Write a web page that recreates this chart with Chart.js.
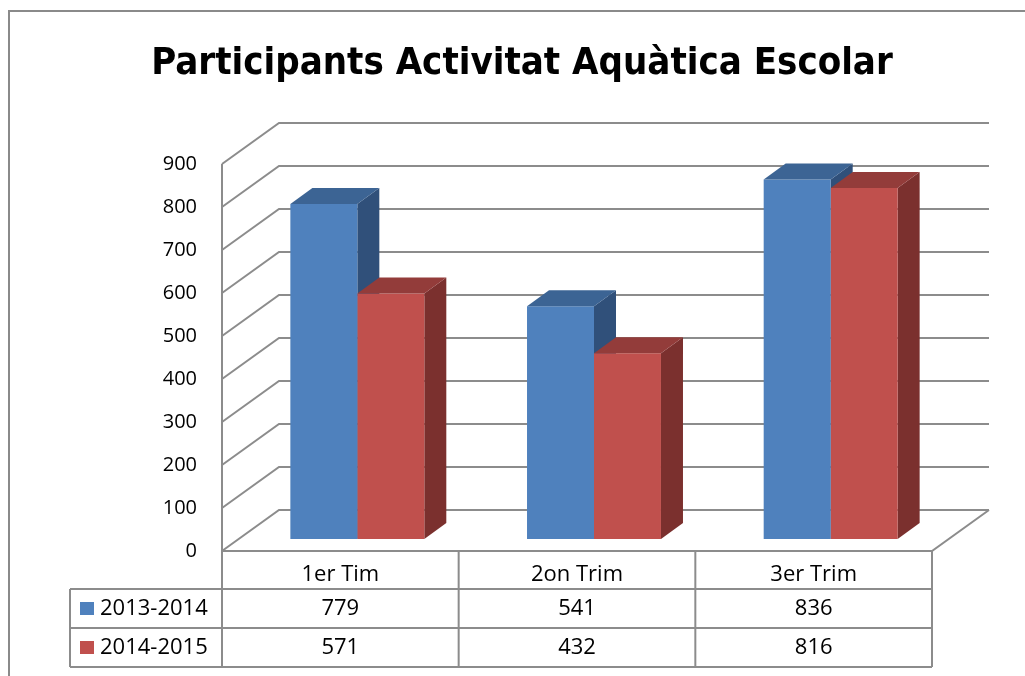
<!DOCTYPE html>
<html>
<head>
<meta charset="utf-8">
<script src="https://cdn.jsdelivr.net/npm/chart.js@4/dist/chart.umd.min.js"></script>
<style>
  body { margin: 0; background: #fff; }
</style>
</head>
<body>
<canvas id="myChart" width="1025" height="676"></canvas>
<script>
// data
var chartTitle = 'Participants Activitat Aquàtica Escolar';
var categories = ['1er Tim', '2on Trim', '3er Trim'];
var seriesNames = ['2013-2014', '2014-2015'];
var values2013 = [779, 541, 836];
var values2014 = [571, 432, 816];
var yMax = 900;
var yStep = 100;

// look of the fake 3d
var faceColors = [
  { front: '#4F81BD', top: '#3C6494', side: '#30507A' },
  { front: '#C0504D', top: '#933C3A', side: '#7B302E' }
];
var gridColor = '#8C8C8C';
var wallDepth = { x: 57, y: -41 };   // front plane -> back wall
var barShift = { x: 17, y: -12 };    // front plane -> front of the bars
var barDepth = { x: 22, y: -16 };    // thickness of a bar
var textFont = '22px "Open Sans"';

function barProps(bar) {
  return bar.getProps(['x', 'y', 'base', 'width'], true);
}

var fake3d = {
  id: 'fake3d',
  beforeDraw: function(chart) {
    var ctx = chart.ctx;
    ctx.save();
    ctx.fillStyle = '#fff';
    ctx.fillRect(0, 0, chart.width, chart.height);
    ctx.strokeStyle = '#8A8A8A';
    ctx.lineWidth = 2;
    ctx.strokeRect(9, 11, chart.width + 20, chart.height + 20);
    ctx.restore();
  },
  beforeDatasetsDraw: function(chart) {
    var ctx = chart.ctx, a = chart.chartArea, ys = chart.scales.y;
    ctx.save();
    ctx.strokeStyle = gridColor;
    ctx.lineWidth = 2;
    ys.ticks.forEach(function(t) {
      var y = ys.getPixelForValue(t.value);
      ctx.beginPath();
      ctx.moveTo(a.left, y);
      ctx.lineTo(a.left + wallDepth.x, y + wallDepth.y);
      ctx.lineTo(a.right + wallDepth.x, y + wallDepth.y);
      ctx.stroke();
    });
    // front axis + floor edge
    ctx.beginPath();
    ctx.moveTo(a.left, a.top);
    ctx.lineTo(a.left, a.bottom);
    ctx.lineTo(a.right, a.bottom);
    ctx.lineTo(a.right + wallDepth.x, a.bottom + wallDepth.y);
    ctx.stroke();
    ctx.restore();

    // bars are pushed into the box, restored in afterDatasetsDraw
    ctx.save();
    ctx.translate(barShift.x, barShift.y);
    chart.data.datasets.forEach(function(ds, i) {
      chart.getDatasetMeta(i).data.forEach(function(bar) {
        var p = barProps(bar);
        var r = p.x + p.width / 2;
        ctx.fillStyle = faceColors[i].side;
        ctx.beginPath();
        ctx.moveTo(r, p.y);
        ctx.lineTo(r + barDepth.x, p.y + barDepth.y);
        ctx.lineTo(r + barDepth.x, p.base + barDepth.y);
        ctx.lineTo(r, p.base);
        ctx.closePath();
        ctx.fill();
      });
    });
  },
  afterDatasetsDraw: function(chart) {
    var ctx = chart.ctx;
    chart.data.datasets.forEach(function(ds, i) {
      chart.getDatasetMeta(i).data.forEach(function(bar) {
        var p = barProps(bar);
        var l = p.x - p.width / 2, r = p.x + p.width / 2;
        ctx.fillStyle = faceColors[i].top;
        ctx.beginPath();
        ctx.moveTo(l, p.y);
        ctx.lineTo(r, p.y);
        ctx.lineTo(r + barDepth.x, p.y + barDepth.y);
        ctx.lineTo(l + barDepth.x, p.y + barDepth.y);
        ctx.closePath();
        ctx.fill();
      });
    });
    ctx.restore();
  },
  afterDraw: function(chart) {
    // data table under the plot
    var ctx = chart.ctx, a = chart.chartArea;
    var colW = (a.right - a.left) / categories.length;
    var rows = [a.bottom, a.bottom + 38, a.bottom + 77, a.bottom + 116];
    var legendLeft = 70;
    var series = [values2013, values2014];

    ctx.save();
    ctx.strokeStyle = gridColor;
    ctx.lineWidth = 2;
    ctx.beginPath();
    for (var c = 0; c <= categories.length; c++) {
      ctx.moveTo(a.left + c * colW, rows[0]);
      ctx.lineTo(a.left + c * colW, rows[3]);
    }
    ctx.moveTo(legendLeft, rows[1]);
    ctx.lineTo(legendLeft, rows[3]);
    for (var r = 1; r < rows.length; r++) {
      ctx.moveTo(legendLeft, rows[r]);
      ctx.lineTo(a.right, rows[r]);
    }
    ctx.stroke();

    ctx.fillStyle = '#000';
    ctx.font = textFont;
    ctx.textAlign = 'center';
    ctx.textBaseline = 'middle';
    categories.forEach(function(cat, i) {
      var cx = chart.scales.x.getPixelForValue(i);
      ctx.fillText(cat, cx, rows[0] + 24);
      series.forEach(function(vals, s) {
        ctx.fillText(String(vals[i]), cx, rows[s + 1] + 20);
      });
    });

    ctx.textAlign = 'left';
    seriesNames.forEach(function(name, s) {
      var cy = rows[s + 1] + 20;
      ctx.fillStyle = faceColors[s].front;
      ctx.fillRect(80, cy - 7, 14, 13);
      ctx.fillStyle = '#000';
      ctx.fillText(name, 100, cy);
    });
    ctx.restore();
  }
};

var data = {
  labels: categories,
  datasets: [
    { label: seriesNames[0], data: values2013, backgroundColor: faceColors[0].front },
    { label: seriesNames[1], data: values2014, backgroundColor: faceColors[1].front }
  ]
};

var config = {
  type: 'bar',
  data: data,
  options: {
    responsive: false,
    animation: false,
    categoryPercentage: 0.566,
    barPercentage: 1,
    layout: { padding: { left: 112, right: 93, top: 0, bottom: 105 } },
    plugins: {
      legend: { display: false },
      tooltip: { enabled: false },
      title: {
        display: true,
        text: chartTitle,
        color: '#000',
        font: { family: '"DejaVu Sans Condensed", "DejaVu Sans", sans-serif', size: 38, weight: 'bold', lineHeight: 1.2 },
        padding: { top: 41, bottom: 77.4 }
      }
    },
    scales: {
      x: {
        display: true,
        grid: { display: false },
        border: { display: false },
        ticks: { display: false },
        afterFit: function(s) { s.height = 20; }
      },
      y: {
        min: 0,
        max: yMax,
        grid: { display: false, drawTicks: false },
        border: { display: false },
        ticks: { stepSize: yStep, padding: 25, color: '#000', font: { family: 'Open Sans', size: 20 } },
        afterFit: function(s) { s.width = 110; }
      }
    }
  },
  plugins: [fake3d]
};

var myChart = new Chart(document.getElementById('myChart'), config);
</script>
</body>
</html>
